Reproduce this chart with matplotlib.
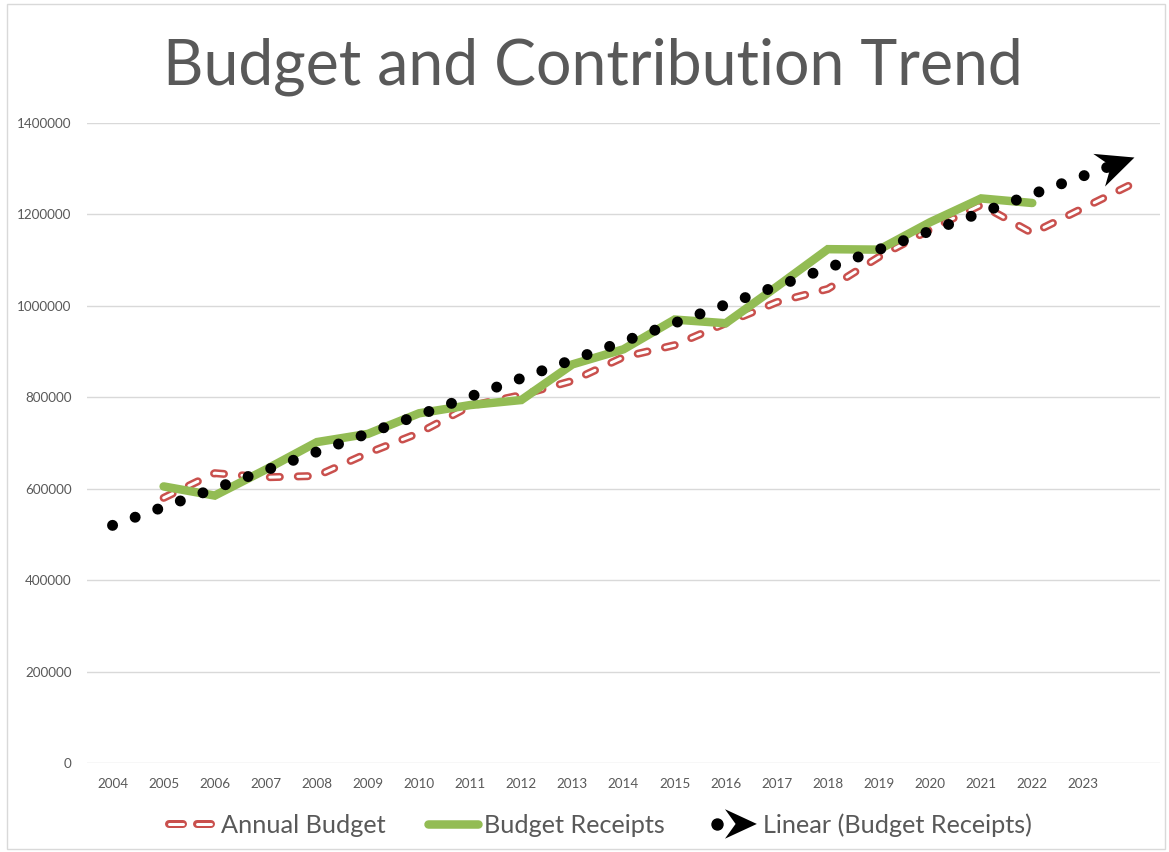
import numpy as np
import matplotlib
matplotlib.use('Agg')
import matplotlib.pyplot as plt
from matplotlib.lines import Line2D
from matplotlib.patches import Polygon, Rectangle
from matplotlib.legend_handler import HandlerBase
import matplotlib.transforms as mtransforms

# ---------------- data ----------------
years = list(range(2004, 2025))
tick_labels = [str(y) for y in range(2004, 2024)] + ['']
budget_years = list(range(2005, 2025))
annual_budget = [580000, 634000, 625000, 628000, 678000, 722000, 781000, 805000,
                 836000, 888000, 914000, 962000, 1008000, 1037000, 1107000,
                 1167000, 1221000, 1159000, 1214000, 1269000]
receipt_years = list(range(2005, 2023))
budget_receipts = [605000, 585000, 642000, 702000, 720000, 765000, 783000, 794000,
                   872000, 905000, 970000, 962000, 1042000, 1124000, 1123000,
                   1183000, 1235000, 1225000]
title = "Budget and Contribution Trend"
series_labels = ["Annual Budget", "Budget Receipts", "Linear (Budget Receipts)"]

# ---------------- style ----------------
plt.rcParams['font.family'] = ['Lato', 'DejaVu Sans']
plt.rcParams['lines.scale_dashes'] = False
TXT = '#595959'
RED = '#C9504D'
GREEN = '#93BC54'
P = 0.72  # points per pixel at 100 dpi

W, H = 1169, 852
fig = plt.figure(figsize=(W / 100, H / 100), dpi=100)
fig.patch.set_facecolor('white')
fig.add_artist(Rectangle((7 / W, 3 / H), (1165 - 7) / W, (848 - 3) / H,
                         transform=fig.transFigure, fill=False,
                         edgecolor='#D9D9D9', lw=1))

ax = fig.add_axes([87 / W, 1 - 763 / H, (1160 - 87) / W, (763 - 123) / H])
ax.set_xlim(2003.5, 2024.5)
ax.set_ylim(0, 1400000)
ax.set_yticks(range(0, 1400001, 200000))
ax.set_yticklabels([str(v) for v in range(0, 1400001, 200000)])
ax.set_xticks(years)
ax.set_xticklabels(tick_labels)
ax.grid(axis='y', color='#D9D9D9', lw=1)
ax.set_axisbelow(True)
ax.tick_params(length=0, colors=TXT, labelsize=9.7)
ax.tick_params(axis='y', pad=11)
ax.tick_params(axis='x', pad=11)
for s in ax.spines.values():
    s.set_visible(False)

dash = (0, (10 * P, 18 * P))
red_outer, = ax.plot(budget_years, annual_budget, color=RED, lw=8 * P,
                     linestyle=dash, dash_capstyle='round',
                     dash_joinstyle='round', zorder=3)
red_inner, = ax.plot(budget_years, annual_budget, color='white', lw=3 * P,
                     linestyle=dash, dash_capstyle='round',
                     dash_joinstyle='round', zorder=3.1)

green, = ax.plot(receipt_years, budget_receipts, color=GREEN, lw=8.5 * P,
                 solid_capstyle='round', solid_joinstyle='miter', zorder=4)

# linear trendline fitted to the receipts, spanning the whole category range
coef = np.polyfit(receipt_years, budget_receipts, 1)
trend_x = np.array([years[0], years[-1]], dtype=float)
trend_y = np.polyval(coef, trend_x)

p0 = ax.transData.transform((trend_x[0], trend_y[0]))
p1 = ax.transData.transform((trend_x[1], trend_y[1]))
ang = np.arctan2(p1[1] - p0[1], p1[0] - p0[0])
u = np.array([np.cos(ang), np.sin(ang)])
# dotted part stops beneath the arrow head
end_d = ax.transData.inverted().transform(p1 - u * 26)
trend, = ax.plot([trend_x[0], end_d[0]], [trend_y[0], end_d[1]], color='black',
                 lw=11 * P, linestyle=(0, (0.01, 24 * P)),
                 dash_capstyle='round', zorder=5)

HEAD = np.array([[0, 0], [-27, 12.5], [-18, 0], [-27, -12.5]])
tr = (mtransforms.Affine2D().rotate(ang).scale(fig.dpi / 72.0)
      + mtransforms.ScaledTranslation(trend_x[1], trend_y[1], ax.transData))
ax.add_patch(Polygon(HEAD, closed=True, transform=tr, facecolor='black',
                     edgecolor='none', zorder=6, clip_on=False))


class TrendHandler(HandlerBase):
    def create_artists(self, legend, orig_handle, xdescent, ydescent,
                       width, height, fontsize, trans):
        x0 = -xdescent
        cy = -ydescent + height / 2
        dot = Line2D([x0 + 0.2 * width], [cy], marker='o', markersize=11 * P,
                     color='black', linestyle='none', transform=trans)
        head = HEAD * 0.85
        head[:, 0] += x0 + width
        head[:, 1] += cy
        poly = Polygon(head, closed=True, facecolor='black', edgecolor='none',
                       transform=trans)
        return [dot, poly]


class DashHandler(HandlerBase):
    def create_artists(self, legend, orig_handle, xdescent, ydescent,
                       width, height, fontsize, trans):
        x0 = -xdescent
        cy = -ydescent + height / 2
        arts = []
        for a, b in [(0.08, 0.37), (0.65, 0.94)]:
            xs = [x0 + a * width, x0 + b * width]
            arts.append(Line2D(xs, [cy, cy], color=RED, lw=8 * P,
                               solid_capstyle='round', transform=trans))
            arts.append(Line2D(xs, [cy, cy], color='white', lw=3 * P,
                               solid_capstyle='round', transform=trans))
        return arts


leg = fig.legend([red_outer, green, trend], series_labels,
                 handler_map={red_outer: DashHandler(),
                              trend: TrendHandler()},
                 loc='center', bbox_to_anchor=(0.512, 1 - 825 / H), ncol=3,
                 frameon=False, fontsize=18.2, handlelength=1.95,
                 handletextpad=0.25, columnspacing=1.7, labelcolor=TXT)

fig.text(0.507, 1 - 67 / H, title, ha='center', va='center', fontsize=45,
         color=TXT)

fig.savefig('out.png', dpi=100)
